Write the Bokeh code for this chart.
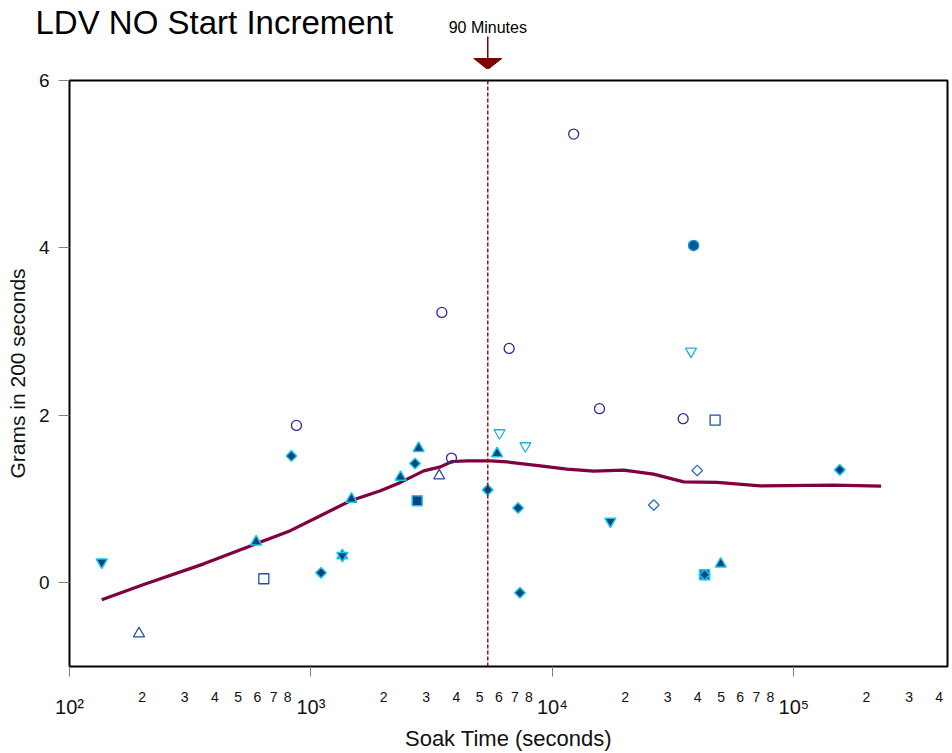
import math
from bokeh.plotting import figure
from bokeh.layouts import column
from bokeh.models import (Range1d, FixedTicker, Span, Label, LogAxis)
from bokeh.embed import file_html
from bokeh.resources import INLINE

FONT = "Liberation Sans"

# ---------------- data ----------------
open_circle_x = [871, 3485, 3820, 6620, 12250, 15670, 34800]
open_circle_y = [1.88, 3.23, 1.49, 2.80, 5.36, 2.08, 1.96]

filled_circle_x = [38450]
filled_circle_y = [4.03]

filled_square_x = [2754, 42700]
filled_square_y = [0.98, 0.095]

filled_diamond_x = [830, 1101, 2699, 5395, 7210, 7340, 155000, 42700]
filled_diamond_y = [1.515, 0.119, 1.425, 1.11, 0.893, -0.119, 1.349, 0.095]

filled_tri_up_x = [593, 1472, 2350, 2793, 5900, 49800, 1349]
filled_tri_up_y = [0.49, 1.0, 1.262, 1.607, 1.544, 0.226, 0.325]

filled_tri_down_x = [136, 1349, 17380]
filled_tri_down_y = [0.246, 0.325, 0.734]

open_tri_up_x = [194, 3398]
open_tri_up_y = [-0.607, 1.278]

open_square_x = [638, 47200]
open_square_y = [0.048, 1.944]

open_tri_down_x = [6040, 7730, 37500]
open_tri_down_y = [1.79, 1.635, 2.766]

open_diamond_x = [26300, 39800]
open_diamond_y = [0.929, 1.342]

smooth_x = [136, 203, 360, 544, 822, 1094, 1458, 1941, 2349, 2933, 3436, 3843,
            4434, 5537, 6490, 8913, 11500, 14830, 19730, 26240, 34990, 48100,
            72600, 146000, 230000]
smooth_y = [-0.202, -0.020, 0.226, 0.425, 0.623, 0.801, 0.980, 1.099, 1.199,
            1.337, 1.385, 1.449, 1.456, 1.456, 1.444, 1.396, 1.357, 1.333,
            1.345, 1.298, 1.206, 1.199, 1.158, 1.167, 1.155]

marker_seconds = 5400          # 90 minutes
marker_text = "90 Minutes"
title_text = "LDV NO Start Increment"

y_ticks = [0, 2, 4, 6]
decade_ticks = [100, 1000, 10000, 100000]
decade_labels = ["10\u00b2", "10\u00b3", "10\u2074", "10\u2075"]
minor_ticks = [200, 300, 400, 500, 600, 700, 800,
               2000, 3000, 4000, 5000, 6000, 7000, 8000,
               20000, 30000, 40000, 50000, 60000, 70000, 80000,
               200000, 300000, 400000]
minor_labels = ["2", "3", "4", "5", "6", "7", "8",
                "2", "3", "4", "5", "6", "7", "8",
                "2", "3", "4", "5", "6", "7", "8",
                "2", "3", "4"]

X_START, X_END = 100, 4.33e5
Y_START, Y_END = -1, 6

# ---------------- layout constants ----------------
W = 952
TOP_H = 69
MAIN_H = 753 - TOP_H
BORDER_L, BORDER_R = 69, 5
FRAME_W = W - BORDER_L - BORDER_R
PX_PER_DECADE = FRAME_W / math.log10(X_END / X_START)

# ---------------- main figure ----------------
p = figure(width=W, height=MAIN_H, x_axis_type="log",
           x_range=Range1d(X_START, X_END), y_range=Range1d(Y_START, Y_END),
           output_backend="svg", toolbar_location=None, title=None,
           min_border_left=BORDER_L, min_border_right=BORDER_R,
           min_border_top=80 - TOP_H, min_border_bottom=86)
p.frame_align = False

p.grid.visible = False
p.outline_line_color = "black"
p.outline_line_width = 2
p.outline_line_alpha = 1
p.background_fill_color = "white"
p.border_fill_color = "white"

# y axis
ya = p.yaxis[0]
ya.ticker = FixedTicker(ticks=y_ticks, minor_ticks=[])
ya.major_tick_out = 11
ya.major_tick_in = 0
ya.major_tick_line_color = "#808080"
ya.axis_line_color = None
ya.major_label_text_font = FONT
ya.major_label_text_font_size = "19px"
ya.major_label_text_color = "#111111"
ya.major_label_standoff = 9
ya.axis_label = "Grams in 200 seconds"
ya.axis_label_text_font = FONT
ya.axis_label_text_font_size = "21px"
ya.axis_label_text_font_style = "normal"
ya.axis_label_text_color = "#111111"
ya.axis_label_standoff = 7

# x axis: decades
xa = p.xaxis[0]
xa.ticker = FixedTicker(ticks=decade_ticks, minor_ticks=[])
xa.major_label_overrides = dict(zip(decade_ticks, decade_labels))
xa.major_tick_out = 10
xa.major_tick_in = 0
xa.major_tick_line_color = "#808080"
xa.axis_line_color = None
xa.major_label_text_font = FONT
xa.major_label_text_font_size = "20px"
xa.major_label_text_color = "#111111"
xa.major_label_standoff = 19

# x axis: minor digit labels
xb = LogAxis(ticker=FixedTicker(ticks=minor_ticks, minor_ticks=[]))
xb.major_label_overrides = dict(zip(minor_ticks, minor_labels))
xb.major_tick_out = 0
xb.major_tick_in = 0
xb.major_tick_line_color = None
xb.axis_line_color = None
xb.major_label_text_font = FONT
xb.major_label_text_font_size = "14px"
xb.major_label_text_color = "#111111"
xb.major_label_standoff = -29
xb.axis_label = "Soak Time (seconds)"
xb.axis_label_text_font = FONT
xb.axis_label_text_font_size = "22px"
xb.axis_label_text_font_style = "normal"
xb.axis_label_text_color = "#111111"
xb.axis_label_standoff = 21
p.add_layout(xb, "below")

# 90 minutes marker line
p.add_layout(Span(location=marker_seconds, dimension="height",
                  line_color="#8b1a1a", line_width=1.5, line_dash="4 2"))

# smooth curve
p.line(smooth_x, smooth_y, line_color="#800040", line_width=3.2)

DARK = "#00427f"
CYAN = "#19c8ec"
DIAMOND = math.pi / 4

p.scatter(open_circle_x, open_circle_y, marker="circle", size=10,
          fill_color=None, line_color="#2b2b9b", line_width=1.3)
p.scatter(filled_circle_x, filled_circle_y, marker="circle", size=10,
          fill_color="#005a96", line_color="#1a8ccc", line_width=1.5)
p.scatter(filled_square_x, filled_square_y, marker="square", size=10,
          fill_color=DARK, line_color=CYAN, line_width=1.5)
p.scatter(filled_diamond_x, filled_diamond_y, marker="square", angle=DIAMOND,
          size=7.5, fill_color=DARK, line_color=CYAN, line_width=1.5)
p.scatter(filled_tri_up_x, filled_tri_up_y, marker="triangle", size=11,
          fill_color=DARK, line_color=CYAN, line_width=1.5)
p.scatter(filled_tri_down_x, filled_tri_down_y, marker="inverted_triangle",
          size=11, fill_color=DARK, line_color=CYAN, line_width=1.5)
p.scatter(open_tri_up_x, open_tri_up_y, marker="triangle", size=11,
          fill_color=None, line_color="#1e4aa0", line_width=1.3)
p.scatter(open_square_x, open_square_y, marker="square", size=10,
          fill_color=None, line_color="#1e50b0", line_width=1.3)
p.scatter(open_tri_down_x, open_tri_down_y, marker="inverted_triangle",
          size=11, fill_color=None, line_color="#1fb0e0", line_width=1.3)
p.scatter(open_diamond_x, open_diamond_y, marker="square", angle=DIAMOND,
          size=7.5, fill_color=None, line_color="#2f6fc0", line_width=1.3)

# ---------------- top strip: title and 90-minute arrow ----------------
top_x_range = Range1d(X_START / 10 ** (BORDER_L / PX_PER_DECADE),
                      X_END * 10 ** (BORDER_R / PX_PER_DECADE))
top = figure(width=W, height=TOP_H, x_axis_type="log",
             x_range=top_x_range, y_range=Range1d(TOP_H, 0),
             x_axis_location=None, y_axis_location=None,
             output_backend="svg", toolbar_location=None, title=None,
             min_border=0, min_border_left=0, min_border_right=0,
             min_border_top=0, min_border_bottom=0)
top.frame_align = False
top.grid.visible = False
top.outline_line_color = None
top.background_fill_color = "white"
top.border_fill_color = "white"

top.add_layout(Label(x=35, x_units="screen", y=22, text=title_text,
                     text_font=FONT, text_font_size="33px",
                     text_baseline="middle", text_align="left",
                     text_color="black"))
top.add_layout(Label(x=marker_seconds, y=27, text=marker_text,
                     text_font=FONT, text_font_size="16px",
                     text_baseline="middle", text_align="center",
                     text_color="black"))
top.segment(x0=[marker_seconds], y0=[36], x1=[marker_seconds], y1=[58],
            line_color="#7f0000", line_width=1.5)
head = 10 ** (14 / PX_PER_DECADE)
top.patch(x=[marker_seconds / head, marker_seconds * head, marker_seconds],
          y=[58, 58, TOP_H], fill_color="#7f0000", line_color="#7f0000")

layout = column(top, p, spacing=0)
open("out.html", "w").write(file_html(layout, INLINE))
